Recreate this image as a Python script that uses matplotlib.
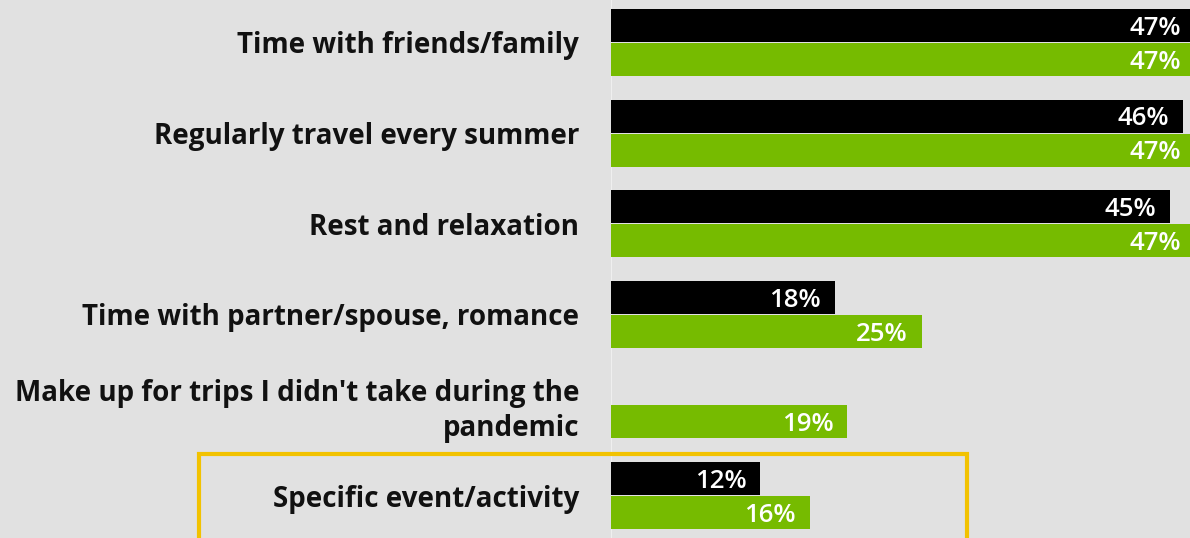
import numpy as np
import matplotlib.pyplot as plt
from matplotlib.patches import Rectangle

plt.rcParams['font.family'] = ['Open Sans', 'DejaVu Sans']

BG = '#e1e1e1'
GREEN = '#76bb00'
GOLD = '#f2c200'

categories = ["Time with friends/family",
              "Regularly travel every summer",
              "Rest and relaxation",
              "Time with partner/spouse, romance",
              "Make up for trips I didn't take during the\npandemic",
              "Specific event/activity"]
black_vals = [47, 46, 45, 18, None, 12]
green_vals = [47, 47, 47, 25, 19, 16]

fig = plt.figure(figsize=(11.9, 5.38), dpi=100, facecolor=BG)
ax = fig.add_axes([611 / 1190, 0, 1 - 611 / 1190, 1], facecolor=BG)

y = np.arange(len(categories))
h = 0.364
off = 0.188

def label_bars(bars, vals):
    for b, v in zip(bars, vals):
        if v is None:
            continue
        ax.annotate(f"{v}%", (b.get_width(), b.get_y() + b.get_height() / 2),
                    xytext=(-10, -2), textcoords='offset points',
                    ha='right', va='center', color='white',
                    fontsize=18.5, fontweight='semibold',
                    annotation_clip=False)

bk = [v if v is not None else 0 for v in black_vals]
bars_k = ax.barh(y - off, bk, height=h, color='black')
bars_g = ax.barh(y + off, green_vals, height=h, color=GREEN)
label_bars(bars_k, black_vals)
label_bars(bars_g, green_vals)

ax.set_xlim(0, 46.6)
ax.set_ylim(5.469, -0.469)
ax.set_yticks(y)
ax.set_yticklabels(categories, fontsize=20, fontweight='bold', color='#111111',
                   linespacing=1.25)
ax.tick_params(axis='y', length=0, pad=23)
ax.set_xticks([])
for s in ax.spines.values():
    s.set_visible(False)
ax.axvline(0, color='#f2f2f2', lw=1.2, zorder=0)

# highlight box around the last category
fig.add_artist(Rectangle((199 / 1190, -0.1), (967 - 199) / 1190, 1.1 - 454 / 538,
                         transform=fig.transFigure, fill=False,
                         edgecolor=GOLD, lw=3, clip_on=False))

fig.savefig('out.png', dpi=100, facecolor=BG)
